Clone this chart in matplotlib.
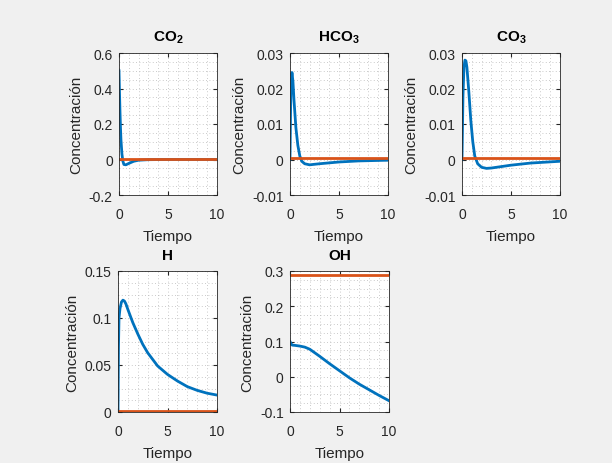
import matplotlib
matplotlib.use("Agg")
import matplotlib.pyplot as plt
from matplotlib.ticker import MultipleLocator, AutoMinorLocator

plt.rcParams["font.family"] = ["Liberation Sans", "DejaVu Sans"]
plt.rcParams["mathtext.fontset"] = "custom"
plt.rcParams["mathtext.rm"] = "Liberation Sans"
plt.rcParams["mathtext.bf"] = "Liberation Sans:bold"

BLUE = "#0072BD"
ORANGE = "#D95319"
TXT = "#262626"

# --- datos ---
t_co2 = [0, 0.05, 0.1, 0.15, 0.2, 0.3, 0.4, 0.5, 0.7, 1.0, 1.5, 2.0, 3.0, 5.0, 10.0]
co2 = [0.5, 0.38, 0.27, 0.18, 0.11, 0.03, -0.01, -0.028, -0.03, -0.022, -0.01, -0.004, -0.001, 0.0, 0.0]

t_hco3 = [0, 0.05, 0.1, 0.2, 0.3, 0.4, 0.6, 0.8, 1.0, 1.2, 1.5, 2.0, 3.0, 5.0, 7.0, 10.0]
hco3 = [0, 0.012, 0.021, 0.0245, 0.022, 0.017, 0.009, 0.004, 0.001, -0.0005,
        -0.0012, -0.0015, -0.0012, -0.0007, -0.0004, -0.0002]

t_co3 = [0, 0.1, 0.2, 0.3, 0.4, 0.5, 0.7, 0.9, 1.1, 1.3, 1.6, 2.0, 2.5, 3.0, 4.0, 5.0, 7.0, 10.0]
co3 = [0, 0.018, 0.026, 0.028, 0.0278, 0.026, 0.019, 0.011, 0.005, 0.001, -0.0012,
       -0.0022, -0.0025, -0.0024, -0.002, -0.0016, -0.001, -0.0005]

t_h = [0, 0.05, 0.1, 0.2, 0.35, 0.5, 0.65, 0.8, 1.0, 1.5, 2.0, 2.5, 3.0, 4.0, 5.0, 6.0, 7.0, 8.0, 9.0, 10.0]
h = [0, 0.07, 0.1, 0.11, 0.117, 0.119, 0.118, 0.115, 0.109, 0.095, 0.083, 0.072,
     0.063, 0.049, 0.040, 0.033, 0.027, 0.023, 0.020, 0.018]

t_oh = [0, 0.1, 0.2, 0.3, 0.5, 1.0, 1.5, 2.0, 3.0, 4.0, 5.0, 6.0, 7.0, 8.0, 9.0, 10.0]
oh = [0.1, 0.094, 0.09, 0.0895, 0.089, 0.087, 0.084, 0.078, 0.058, 0.037, 0.017, -0.003,
      -0.021, -0.037, -0.053, -0.068]

t_eq = [0, 10]
eq_co2 = [0.005, 0.005]
eq_hco3 = [0.0003, 0.0003]
eq_co3 = [0.0003, 0.0003]
eq_h = [0.001, 0.001]
eq_oh = [0.288, 0.288]

titles = [r"CO$_\mathbf{2}$", r"HCO$_\mathbf{3}$", r"CO$_\mathbf{3}$", "H", "OH"]
series = [(t_co2, co2, eq_co2), (t_hco3, hco3, eq_hco3), (t_co3, co3, eq_co3),
          (t_h, h, eq_h), (t_oh, oh, eq_oh)]
ylims = [(-0.2, 0.6), (-0.01, 0.03), (-0.01, 0.03), (0, 0.15), (-0.1, 0.3)]
ysteps = [0.2, 0.01, 0.01, 0.05, 0.1]

fig = plt.figure(figsize=(6.12, 4.64), dpi=100, facecolor="#F0F0F0")
W, H = 612, 464
# posiciones (px) de los ejes: izquierda, arriba, derecha, abajo
boxes = [(119, 54, 217, 196), (290, 54, 388, 196), (462, 54, 560, 196),
         (118, 272, 217, 413), (290, 272, 389, 413)]

for (l, tp, r, b), title, (tt, yy, eq), yl, ys in zip(boxes, titles, series, ylims, ysteps):
    ax = fig.add_axes([l / W, 1 - b / H, (r - l) / W, (b - tp) / H])
    ax.plot(tt, yy, color=BLUE, lw=2)
    ax.plot(t_eq, eq, color=ORANGE, lw=2)
    ax.set_xlim(0, 10)
    ax.set_ylim(*yl)
    ax.xaxis.set_major_locator(MultipleLocator(5))
    ax.yaxis.set_major_locator(MultipleLocator(ys))
    ax.xaxis.set_minor_locator(MultipleLocator(1))
    ax.yaxis.set_minor_locator(AutoMinorLocator(4))
    ax.grid(True, which="both", linestyle=(0, (1, 3)), color="#B8B8B8", linewidth=0.6)
    ax.tick_params(which="both", direction="in", top=True, right=True, colors=TXT,
                   labelsize=10, length=3)
    ax.tick_params(which="minor", length=0)
    ax.tick_params(axis="x", pad=8.5)
    ax.tick_params(axis="y", pad=4.5)
    ax.yaxis.set_major_formatter(plt.FuncFormatter(lambda v, p: f"{v:g}"))
    for s in ax.spines.values():
        s.set_color(TXT)
        s.set_linewidth(0.6)
    ax.set_title(title, fontsize=11, fontweight="bold", color="black", pad=9)
    ax.set_xlabel("Tiempo", fontsize=11, color=TXT, labelpad=6)
    ax.set_ylabel("Concentración", fontsize=11, color=TXT, labelpad=4)

fig.savefig("out.png", dpi=100, facecolor=fig.get_facecolor())
